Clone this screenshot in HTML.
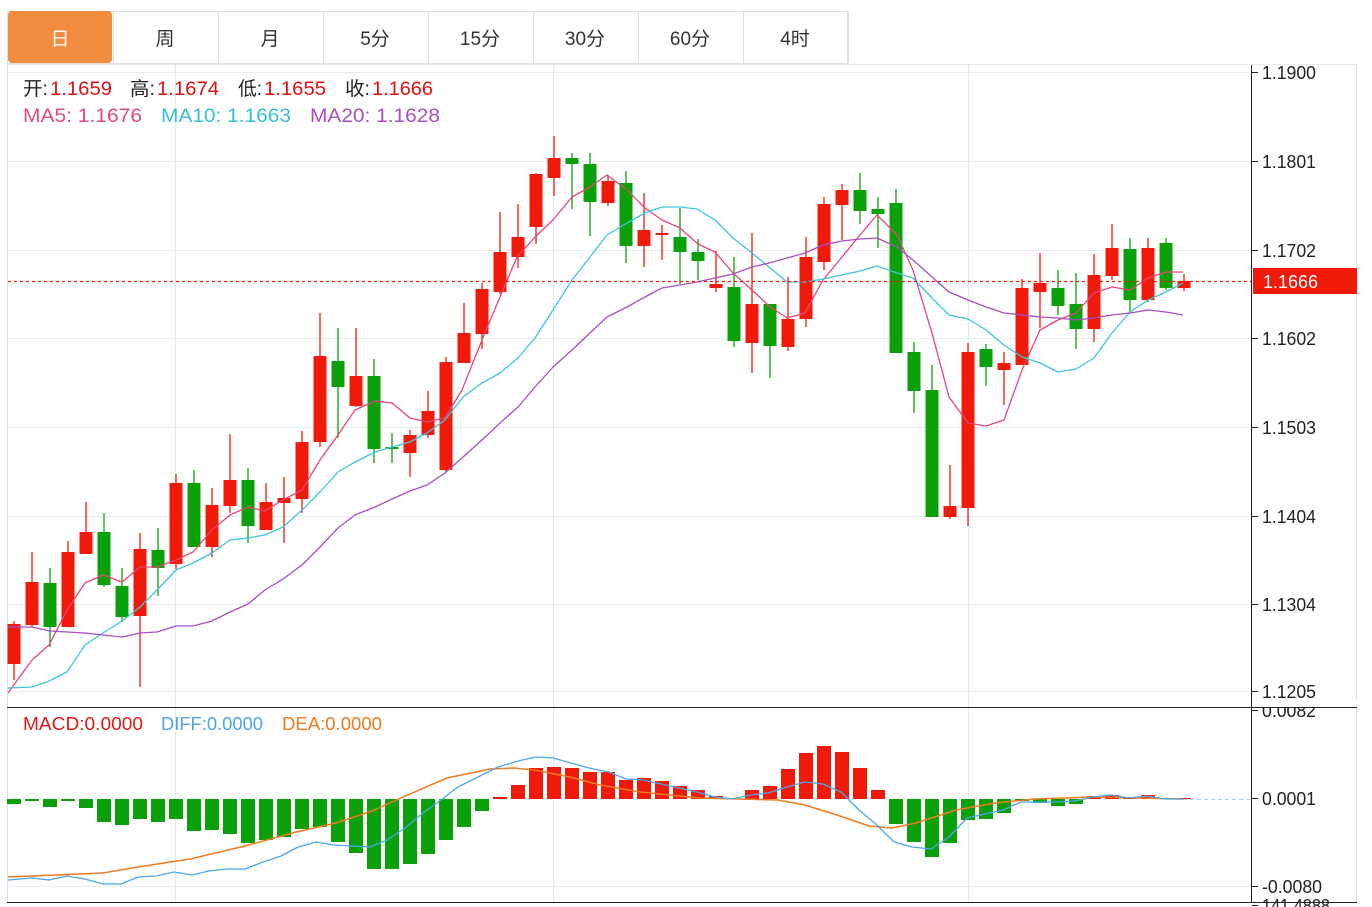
<!DOCTYPE html>
<html><head><meta charset="utf-8">
<style>
html,body{margin:0;padding:0;background:#fff;width:1372px;height:907px;overflow:hidden;font-family:"Liberation Sans","Noto Sans CJK SC",sans-serif;}
svg{position:absolute;left:0;top:0}
</style></head><body>
<svg id="s" width="1372" height="907" xmlns="http://www.w3.org/2000/svg" font-family="Liberation Sans, Noto Sans CJK SC, sans-serif"></svg>
<script>
var s=document.getElementById('s');var h='';
function L(x1,y1,x2,y2,c,w,extra){h+='<line x1="'+x1+'" y1="'+y1+'" x2="'+x2+'" y2="'+y2+'" stroke="'+c+'" stroke-width="'+(w||1)+'" '+(extra||'')+'/>';}
function R(x,y,w,hh,c,extra){h+='<rect x="'+x+'" y="'+y+'" width="'+w+'" height="'+hh+'" fill="'+c+'" '+(extra||'')+'/>';}
function T(x,y,t,c,sz,extra){h+='<text x="'+x+'" y="'+y+'" fill="'+c+'" font-size="'+sz+'" '+(extra||'')+'>'+t+'</text>';}
function TL(x,x2,y,t,c,sz){h+='<text x="'+x+'" y="'+y+'" fill="'+c+'" font-size="'+sz+'" textLength="'+(x2-x)+'" lengthAdjust="spacingAndGlyphs">'+t+'</text>';}
function P(pts,c,w){h+='<polyline fill="none" stroke="'+c+'" stroke-width="'+(w||1.3)+'" stroke-linejoin="round" points="'+pts.map(function(p){return p[0]+','+p[1]}).join(' ')+'"/>';}
// tabs
R(7.5,11.5,840,52,'#fff','stroke="#dde0e4"');
R(8,11,104,52,'#f28c3e','rx="4"');
var tabs=['日','周','月','5分','15分','30分','60分','4时'];
for(var i=0;i<8;i++){var cx=60+i*105;T(cx,45,tabs[i],i==0?'#fff':'#333',19,'text-anchor="middle"');if(i>0)L(113+(i-1)*105+0.5,12,113+(i-1)*105+0.5,63,'#dde0e4');}
L(848.5,12,848.5,63,'#dde0e4');
// chart frame
L(7.5,64,7.5,903,'#dde0e4');L(7,64.5,1357,64.5,'#e6e9ee');L(1356.5,64,1356.5,903,'#dde0e4');
var gl=[[72,'1.1900'],[161,'1.1801'],[250,'1.1702'],[338,'1.1602'],[427,'1.1503'],[516,'1.1404'],[604,'1.1304'],[691,'1.1205']];
gl.forEach(function(g){L(8,g[0]+0.5,1251,g[0]+0.5,'#e8ebef');});
[175,553,968].forEach(function(x){L(x+0.5,65,x+0.5,903,'#e4e9f0');});
L(8,886.5,1251,886.5,'#e8ebef');
L(1251.5,65,1251.5,903,'#222');
L(7,707.5,1357,707.5,'#222');L(7,902.5,1357,902.5,'#222');
gl.forEach(function(g){L(1252,g[0]+0.5,1258,g[0]+0.5,'#222');TL(1262,1316,g[0]+7,g[1],'#222',18);});
[[710,'0.0082',1316],[798,'0.0001',1316],[886,'-0.0080',1322],[905,'141.4888',1330]].forEach(function(g){L(1252,g[0]+0.5,1258,g[0]+0.5,'#222');TL(1262,g[2],g[0]+7,g[1],'#222',18);});
R(1252,700,105,7,'#fff');
var C=[[1,624,664,621,680],[1,582,625,552,627],[0,583,627,568,647],[1,552,627,541,627],[1,532,554,502,554],[0,532,585,513,587],[0,586,617,568,622],[1,549,616,533,687],[0,550,568,528,596],[1,483,564,474,569],
[0,483,547,470,547],[1,505,547,488,557],[1,480,506,434,513],[0,480,526,468,543],[1,502,530,483,530],[1,498,503,477,543],[1,442,499,431,513],[1,356,442,313,447],[0,361,387,328,438],[1,376,406,328,407],
[0,376,449,359,463],[0,447,449,433,463],[1,435,453,430,477],[1,411,435,391,438],[1,362,470,357,472],[1,333,363,303,363],[1,289,334,283,349],[1,252,292,212,294],[1,237,257,204,268],[1,174,227,173,244],
[1,158,178,136,196],[0,158,164,153,209],[0,164,202,153,236],[1,181,203,175,206],[0,183,246,171,263],[1,230,246,193,267],[1,233,235,225,260],[0,237,252,208,284],[0,252,261,239,280],[1,284,288,251,292],
[0,287,341,257,347],[1,304,343,233,373],[0,304,346,304,378],[1,319,347,277,351],[1,257,319,237,327],[1,204,262,197,270],[1,190,205,184,240],[0,190,211,173,224],[0,209,214,197,248],[0,203,353,189,353],
[0,352,391,342,413],[0,390,517,365,517],[1,506,517,465,519],[1,352,508,343,526],[0,349,367,344,386],[1,363,370,352,405],[1,288,365,279,365],[1,283,292,253,328],[0,288,306,270,315],[0,304,329,273,349],
[1,275,329,254,342],[1,248,276,224,280],[0,249,300,238,312],[1,248,300,238,302],[0,243,288,238,290],[1,281,288,274,291]];
var RED='#f01a0a',GR='#0aa00a';
C.forEach(function(c,i){var x=14+i*18;var col=c[0]?RED:GR;L(x,c[3],x,c[4],col,1.3);var hh=Math.max(2,c[2]-c[1]);R(x-6.5,c[1],13,hh,col);});
P([[8,693],[32,660],[49,645],[67,610],[85,583],[103,575],[122,582],[140,567],[157,567],[176,560],[193,552],[212,530],[230,515],[248,507],[265,511],[283,500],[302,490],[320,460],[338,435],[355,410],[375,401],[392,403],[410,418],[427,422],[445,418],[462,390],[482,340],[500,297],[517,257],[535,237],[553,220],[572,197],[590,187],[607,175],[627,190],[645,208],[662,220],[680,228],[698,244],[715,252],[733,273],[752,290],[769,306],[787,318],[805,313],[823,280],[842,257],[860,235],[877,215],[897,235],[913,270],[932,333],[949,397],[968,423],[986,426],[1004,420],[1022,370],[1040,330],[1058,320],[1076,313],[1094,293],[1112,287],[1130,290],[1148,278],[1166,272],[1183,272]],'#e8457a');
P([[8,688],[32,687],[47,682],[67,672],[85,645],[103,633],[122,621],[140,607],[157,590],[176,570],[193,563],[212,553],[230,540],[248,538],[265,535],[283,527],[302,510],[320,492],[338,472],[355,462],[375,452],[392,447],[410,442],[427,433],[445,420],[463,397],[482,383],[500,373],[518,358],[535,338],[553,310],[572,280],[590,257],[607,235],[627,223],[645,213],[662,207],[680,207],[697,209],[715,220],[733,238],[752,253],[769,267],[787,282],[805,282],[823,279],[842,275],[860,271],[877,266],[897,273],[913,278],[932,298],[949,315],[968,319],[986,330],[1004,345],[1022,357],[1040,363],[1058,372],[1076,369],[1094,358],[1112,333],[1130,312],[1148,300],[1166,292],[1183,283]],'#3cc6d6');
P([[8,627],[32,627],[50,631],[67,632],[85,633],[103,635],[122,637],[140,633],[157,632],[176,626],[193,626],[212,621],[230,612],[248,604],[265,590],[283,579],[302,565],[320,547],[338,528],[355,515],[375,507],[392,499],[410,491],[427,485],[445,473],[463,457],[482,440],[500,423],[518,407],[535,387],[553,367],[572,350],[590,333],[607,317],[627,307],[645,297],[662,288],[680,285],[697,282],[715,278],[733,274],[752,267],[769,263],[787,258],[805,253],[823,245],[842,241],[860,239],[877,238],[897,247],[913,260],[932,277],[949,292],[968,300],[986,307],[1004,313],[1022,315],[1040,317],[1058,318],[1076,320],[1094,318],[1112,315],[1130,313],[1148,310],[1166,312],[1183,315]],'#a74fc0');
L(8,281.5,1251,281.5,RED,1.2,'stroke-dasharray="3,3"');
R(1253,268,104,26,RED);TL(1263,1318,288,'1.1666','#fff',18);
// legends
TL(23,48,95,'开:','#222',19);TL(50,112,95,'1.1659','#e01010',19);
TL(130,155,95,'高:','#222',19);TL(157,219,95,'1.1674','#e01010',19);
TL(238,262,95,'低:','#222',19);TL(264,326,95,'1.1655','#e01010',19);
TL(345,370,95,'收:','#222',19);TL(372,433,95,'1.1666','#e01010',19);
TL(23,142,122,'MA5: 1.1676','#e04a80',19);TL(161,291,122,'MA10: 1.1663','#35bfd2',19);TL(310,440,122,'MA20: 1.1628','#a64fbf',19);
TL(23,143,730,'MACD:0.0000','#e01818',18);TL(161,263,730,'DIFF:0.0000','#4ea6e8',18);TL(282,382,730,'DEA:0.0000','#f07b20',18);
var M=[804,801,807,801,808,822,825,819,822,819,831,830,834,843,840,837,829,827,842,853,869,869,864,854,840,827,811,797,785,768,767,768,772,772,780,778,781,786,790,796,799,790,786,769,753,746,752,768,790,824,842,857,843,820,819,813,801,803,806,804,796,795,797,795,798,798];
var Z=799;
M.forEach(function(y,i){var x=14+i*18;if(y>Z){R(x-7,Z,14,y-Z,GR);}else if(y<Z){R(x-7,y,14,Z-y,RED);}});
L(1183,799.5,1251,799.5,'#a8d4ea',1.2,'stroke-dasharray="4,3"');
P([[8,877],[79,874],[103,873],[138,867],[190,859],[245,846],[296,832],[336,823],[372,811],[403,797],[447,778],[490,769],[514,768],[534,770],[570,777],[600,785],[640,792],[699,798],[778,800],[805,805],[837,815],[869,826],[892,828],[916,823],[956,810],[995,803],[1035,799],[1094,797],[1183,799]],'#f07b20',1.5);
P([[8,880],[32,878],[49,880],[67,876],[85,879],[103,884],[121,884],[138,877],[156,876],[174,872],[192,875],[209,871],[227,869],[245,869],[263,862],[281,856],[298,847],[316,842],[334,845],[352,846],[370,847],[387,840],[405,828],[423,813],[441,800],[458,787],[478,777],[498,767],[518,761],[536,757],[553,758],[571,763],[589,768],[609,772],[626,779],[643,780],[661,784],[679,788],[697,792],[715,797],[732,799],[750,795],[768,793],[787,787],[805,782],[823,784],[841,792],[859,810],[877,825],[894,842],[912,847],[931,849],[949,837],[967,818],[985,814],[1003,810],[1021,802],[1039,802],[1057,802],[1075,801],[1093,797],[1111,795],[1129,798],[1147,796],[1165,799],[1183,799]],'#4ea6e8',1.3);
s.innerHTML=h;
</script>
</body></html>
